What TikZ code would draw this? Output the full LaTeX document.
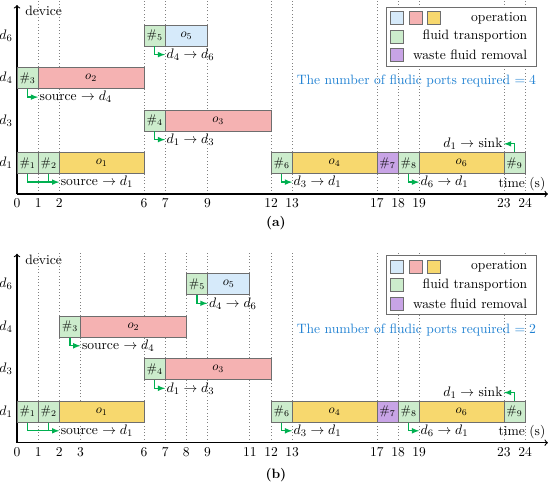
\documentclass[tikz,border=0pt]{standalone}
\usetikzlibrary{arrows, math}
\definecolor{opblue}{RGB}{214,234,250}
\definecolor{opred}{RGB}{245,178,178}
\definecolor{opyellow}{RGB}{247,216,110}
\definecolor{ftgreen}{RGB}{204,236,204}
\definecolor{wfpurple}{RGB}{200,164,230}
\definecolor{argreen}{RGB}{0,176,80}
\definecolor{portblue}{RGB}{30,128,210}
\definecolor{edgegray}{RGB}{110,110,110}

\tikzset{
slotbox/.style={draw=edgegray, line width=0.6pt, inner sep=0pt, minimum height=0.588cm, font=\fontsize{10}{12}\selectfont},
grid line/.style={gray, dotted, line width=0.6pt},
axis/.style={->, line width=0.9pt},
garrow/.style={-latex, draw=argreen, line width=1pt},
gline/.style={draw=argreen, line width=1pt},
swatch/.style={draw=edgegray, line width=0.6pt, minimum size=0.364cm, inner sep=0pt},
legendbox/.style={draw=edgegray, line width=0.6pt, fill=white, minimum width=4.203cm, minimum height=1.654cm},
}

\newcommand{\taskbox}[6]{\node[slotbox,fill=#5,minimum width={(#3-#2)*0.5928cm}] (#1) at ({(#2+#3)/2},#4) {#6};}

\begin{document}
\begin{tikzpicture}[x=0.5928cm, y=1.19cm, font=\fontsize{10.8}{13}\selectfont]
\tikzmath{
\ra=0.73;
\rc=1.73;
\rd=2.73;
\rf=3.73;
\dl=0.45;
}
\useasboundingbox (-0.803,-6.776) rectangle (25.177,4.565);

%%%%% (a)
\foreach \t in {1,2,6,7,9,12,13,17,18,19,23,24}
  \draw[grid line] (\t,0) -- (\t,4.565);

%axes
\coordinate (oa) at (0,0);
\draw[axis] (oa) -- (25.08,0);
\draw[axis] (oa) -- (0,4.447);
\node[anchor=west, inner sep=0pt] (deva) at (0.38,4.306) {device};
\node (timea) at (23.85,0.24) {time (s)};
\foreach \t in {0,1,2,6,7,9,12,13,17,18,19,23,24}
  \node[below] (ta\t) at (\t,0) {\t};
\node[left] (ya1) at (0,\ra) {$d_1$};
\node[left] (ya3) at (0,\rc) {$d_3$};
\node[left] (ya4) at (0,\rd) {$d_4$};
\node[left] (ya6) at (0,\rf) {$d_6$};

%tasks
\taskbox{a5}{6}{7}{\rf}{ftgreen}{$\#_5$}
\taskbox{ao5}{7}{9}{\rf}{opblue}{$o_5$}
\taskbox{a3}{0}{1}{\rd}{ftgreen}{$\#_3$}
\taskbox{ao2}{1}{6}{\rd}{opred}{$o_2$}
\taskbox{a4}{6}{7}{\rc}{ftgreen}{$\#_4$}
\taskbox{ao3}{7}{12}{\rc}{opred}{$o_3$}
\taskbox{a1}{0}{1}{\ra}{ftgreen}{$\#_1$}
\taskbox{a2}{1}{2}{\ra}{ftgreen}{$\#_2$}
\taskbox{ao1}{2}{6}{\ra}{opyellow}{$o_1$}
\taskbox{a6}{12}{13}{\ra}{ftgreen}{$\#_6$}
\taskbox{ao4}{13}{17}{\ra}{opyellow}{$o_4$}
\taskbox{a7}{17}{18}{\ra}{wfpurple}{$\#_7$}
\taskbox{a8}{18}{19}{\ra}{ftgreen}{$\#_8$}
\taskbox{ao6}{19}{23}{\ra}{opyellow}{$o_6$}
\taskbox{a9}{23}{24}{\ra}{ftgreen}{$\#_9$}

%transport
\node[anchor=west, inner sep=1pt] (la5) at (7,\rf-\dl) {$d_4\to d_6$};
\node[anchor=west, inner sep=1pt] (la3) at (1,\rd-\dl) {source $\to d_4$};
\node[anchor=west, inner sep=1pt] (la4) at (7,\rc-\dl) {$d_1\to d_3$};
\node[anchor=west, inner sep=1pt] (la1) at (2,\ra-\dl) {source $\to d_1$};
\node[anchor=west, inner sep=1pt] (la6) at (13,\ra-\dl) {$d_3\to d_1$};
\node[anchor=west, inner sep=1pt] (la8) at (19,\ra-\dl) {$d_6\to d_1$};
\node[anchor=east, inner sep=1pt] (la9) at (23,\ra+\dl) {$d_1\to$ sink};
\draw[garrow] (a5.south) |- (la5.west);
\draw[garrow] (a3.south) |- (la3.west);
\draw[garrow] (a4.south) |- (la4.west);
\draw[garrow] (a1.south) |- (la1.west);
\draw[gline] (a2.south) -- (a2.south |- la1.west);
\draw[garrow] (a6.south) |- (la6.west);
\draw[garrow] (a8.south) |- (la8.west);
\draw[garrow] (a9.north) |- (la9.east);

%legend
\node[legendbox] (lega) at (21.005,3.705) {};
\node[swatch, fill=opblue] (swa1) at (17.95,4.141) {};
\node[swatch, fill=opred] (swa2) at (18.85,4.141) {};
\node[swatch, fill=opyellow] (swa3) at (19.67,4.141) {};
\node[swatch, fill=ftgreen] (swa4) at (17.95,3.706) {};
\node[swatch, fill=wfpurple] (swa5) at (17.95,3.27) {};
\node[anchor=east] (lta1) at (24.31,4.141) {operation};
\node[anchor=east] (lta2) at (24.31,3.706) {fluid transportion};
\node[anchor=east] (lta3) at (24.31,3.27) {waste fluid removal};
\node[text=portblue] (porta) at (18.87,2.66) {The number of fludic ports required $=4$};
\node (capa) at (12.23,-0.68) {\textbf{(a)}};

%%%%% (b)
\begin{scope}[shift={(0,-5.852)}]
\foreach \t in {1,2,3,6,7,8,9,11,12,13,17,18,19,23,24}
  \draw[grid line] (\t,0) -- (\t,4.51);

%axes
\coordinate (ob) at (0,0);
\draw[axis] (ob) -- (25.08,0);
\draw[axis] (ob) -- (0,4.447);
\node[anchor=west, inner sep=0pt] (devb) at (0.38,4.306) {device};
\node (timeb) at (23.85,0.24) {time (s)};
\foreach \t in {0,1,2,3,6,7,8,9,11,12,13,17,18,19,23,24}
  \node[below] (tb\t) at (\t,0) {\t};
\node[left] (yb1) at (0,\ra) {$d_1$};
\node[left] (yb3) at (0,\rc) {$d_3$};
\node[left] (yb4) at (0,\rd) {$d_4$};
\node[left] (yb6) at (0,\rf) {$d_6$};

%tasks
\taskbox{b5}{8}{9}{\rf}{ftgreen}{$\#_5$}
\taskbox{bo5}{9}{11}{\rf}{opblue}{$o_5$}
\taskbox{b3}{2}{3}{\rd}{ftgreen}{$\#_3$}
\taskbox{bo2}{3}{8}{\rd}{opred}{$o_2$}
\taskbox{b4}{6}{7}{\rc}{ftgreen}{$\#_4$}
\taskbox{bo3}{7}{12}{\rc}{opred}{$o_3$}
\taskbox{b1}{0}{1}{\ra}{ftgreen}{$\#_1$}
\taskbox{b2}{1}{2}{\ra}{ftgreen}{$\#_2$}
\taskbox{bo1}{2}{6}{\ra}{opyellow}{$o_1$}
\taskbox{b6}{12}{13}{\ra}{ftgreen}{$\#_6$}
\taskbox{bo4}{13}{17}{\ra}{opyellow}{$o_4$}
\taskbox{b7}{17}{18}{\ra}{wfpurple}{$\#_7$}
\taskbox{b8}{18}{19}{\ra}{ftgreen}{$\#_8$}
\taskbox{bo6}{19}{23}{\ra}{opyellow}{$o_6$}
\taskbox{b9}{23}{24}{\ra}{ftgreen}{$\#_9$}

%transport
\node[anchor=west, inner sep=1pt] (lb5) at (9,\rf-\dl) {$d_4\to d_6$};
\node[anchor=west, inner sep=1pt] (lb3) at (3,\rd-\dl) {source $\to d_4$};
\node[anchor=west, inner sep=1pt] (lb4) at (7,\rc-\dl) {$d_1\to d_3$};
\node[anchor=west, inner sep=1pt] (lb1) at (2,\ra-\dl) {source $\to d_1$};
\node[anchor=west, inner sep=1pt] (lb6) at (13,\ra-\dl) {$d_3\to d_1$};
\node[anchor=west, inner sep=1pt] (lb8) at (19,\ra-\dl) {$d_6\to d_1$};
\node[anchor=east, inner sep=1pt] (lb9) at (23,\ra+\dl) {$d_1\to$ sink};
\draw[garrow] (b5.south) |- (lb5.west);
\draw[garrow] (b3.south) |- (lb3.west);
\draw[garrow] (b4.south) |- (lb4.west);
\draw[garrow] (b1.south) |- (lb1.west);
\draw[gline] (b2.south) -- (b2.south |- lb1.west);
\draw[garrow] (b6.south) |- (lb6.west);
\draw[garrow] (b8.south) |- (lb8.west);
\draw[garrow] (b9.north) |- (lb9.east);

%legend
\node[legendbox] (legb) at (21.005,3.705) {};
\node[swatch, fill=opblue] (swb1) at (17.95,4.141) {};
\node[swatch, fill=opred] (swb2) at (18.85,4.141) {};
\node[swatch, fill=opyellow] (swb3) at (19.67,4.141) {};
\node[swatch, fill=ftgreen] (swb4) at (17.95,3.706) {};
\node[swatch, fill=wfpurple] (swb5) at (17.95,3.27) {};
\node[anchor=east] (ltb1) at (24.31,4.141) {operation};
\node[anchor=east] (ltb2) at (24.31,3.706) {fluid transportion};
\node[anchor=east] (ltb3) at (24.31,3.27) {waste fluid removal};
\node[text=portblue] (portb) at (18.87,2.66) {The number of fludic ports required $=2$};
\node (capb) at (12.23,-0.76) {\textbf{(b)}};
\end{scope}
\end{tikzpicture}
\end{document}
